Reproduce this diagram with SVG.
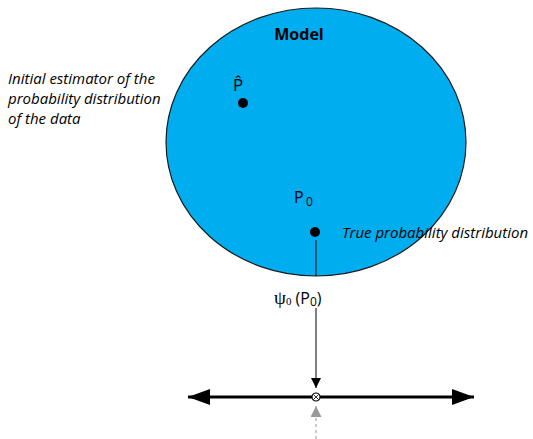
<svg xmlns="http://www.w3.org/2000/svg" width="533" height="439" viewBox="0 0 533 439">
<style>
.lbl{font-family:"Open Sans","Liberation Sans",sans-serif;fill:#000}
.it{font-style:italic;font-size:15px}
.ln{stroke:#000;fill:none}
</style>
<defs>
<marker id="ah" viewBox="0 0 10 10" refX="10" refY="5" markerWidth="10" markerHeight="10" markerUnits="userSpaceOnUse" orient="auto"><path d="M0,0 L10,5 L0,10 z" fill="#000"/></marker>
<marker id="big" viewBox="0 0 10 10" refX="10" refY="5" markerWidth="22" markerHeight="16" markerUnits="userSpaceOnUse" orient="auto" preserveAspectRatio="none"><path d="M0,0 L10,5 L0,10 z" fill="#000"/></marker>
<marker id="ga" viewBox="0 0 10 10" refX="10" refY="5" markerWidth="11" markerHeight="11" markerUnits="userSpaceOnUse" orient="auto"><path d="M0,0 L10,5 L0,10 z" fill="#999"/></marker>
</defs>
<g id="model">
<ellipse cx="316" cy="142" rx="150" ry="134" fill="#00AEEF" stroke="#1a1a1a" stroke-width="1.2"/>
<text class="lbl" x="299" y="40" font-size="16" font-weight="bold" text-anchor="middle">Model</text>
</g>
<g id="phat">
<circle cx="243" cy="103" r="5" fill="#000"/>
<text class="lbl" x="238" y="91" font-size="17" text-anchor="middle">P&#x302;</text>
<text class="lbl it" x="8" y="84">Initial estimator of the</text>
<text class="lbl it" x="8" y="104">probability distribution</text>
<text class="lbl it" x="8" y="124">of the data</text>
</g>
<g id="p0">
<circle cx="315" cy="232" r="5" fill="#000"/>
<text class="lbl" x="294" y="203" font-size="16">P</text>
<text class="lbl" x="306" y="206" font-size="12">0</text>
<text class="lbl it" x="342" y="238">True probability distribution</text>
</g>
<g id="psi">
<text class="lbl" x="274" y="304" font-size="16"><tspan font-family="Liberation Serif,serif" font-size="19">ψ</tspan><tspan font-family="Liberation Serif,serif" font-size="11" dy="1">0</tspan><tspan dy="-1"> (P</tspan><tspan font-size="12" dy="2">0</tspan><tspan dy="-2">)</tspan></text>
</g>
<g id="axis">
<circle cx="316" cy="397" r="4" fill="#fff" stroke="#000" stroke-width="1.2"/>
<path d="M313.2,394.2 L318.8,399.8 M318.8,394.2 L313.2,399.8" stroke="#000" stroke-width="0.8"/>
</g>
<g id="connectors">
<line class="ln" x1="316" y1="240" x2="316" y2="276" stroke-width="1"/>
<line class="ln" x1="316" y1="308" x2="316" y2="388" stroke-width="1" marker-end="url(#ah)"/>
<line class="ln" x1="312" y1="397" x2="188" y2="397" stroke-width="3" marker-end="url(#big)"/>
<line class="ln" x1="320" y1="397" x2="474" y2="397" stroke-width="3" marker-end="url(#big)"/>
<line x1="316" y1="439" x2="316" y2="406" stroke="#999" stroke-width="1" stroke-dasharray="3,3" marker-end="url(#ga)"/>
</g>
</svg>
